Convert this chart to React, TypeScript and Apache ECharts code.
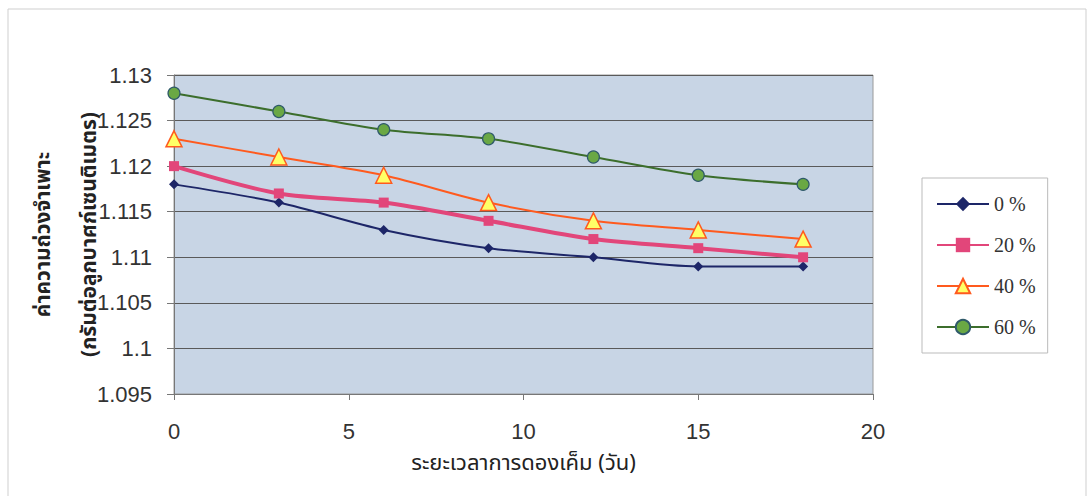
import React, { useEffect, useRef } from "react";
import * as echarts from "echarts";

const days = [0, 3, 6, 9, 12, 15, 18];
const s0 = [1.118, 1.116, 1.113, 1.111, 1.11, 1.109, 1.109];
const s20 = [1.12, 1.117, 1.116, 1.114, 1.112, 1.111, 1.11];
const s40 = [1.123, 1.121, 1.119, 1.116, 1.114, 1.113, 1.112];
const s60 = [1.128, 1.126, 1.124, 1.123, 1.121, 1.119, 1.118];
const seriesNames = ["0 %", "20 %", "40 %", "60 %"];
const xTitle = "ระยะเวลาการดองเค็ม (วัน)";
const yTitle = "ค่าความถ่วงจำเพาะ\n(กรัมต่อลูกบาศก์เซนติเมตร)";

const pair = (ys: number[]) => days.map((d, i) => [d, ys[i]]);

export default function App() {
  const ref = useRef<HTMLDivElement>(null);
  useEffect(() => {
    if (!ref.current) return;
    const chart = echarts.init(ref.current, null, { renderer: "svg" });
    const thai = "'Noto Sans Thai', 'Noto Sans', 'DejaVu Sans', sans-serif";
    chart.setOption({
      animation: false,
      backgroundColor: "#ffffff",
      graphic: [
        {
          type: "rect",
          shape: { x: 8, y: 9, width: 1078, height: 492 },
          style: { fill: "none", stroke: "#cfcfcf", lineWidth: 1 },
          silent: true,
        },
      ],
      grid: {
        left: 174,
        right: 216,
        top: 75,
        bottom: 102,
        outerBoundsMode: "none",
        containLabel: false,
        show: true,
        backgroundColor: "#c8d5e5",
        borderColor: "#9a9a9a",
        borderWidth: 1,
      },
      legend: {
        orient: "vertical",
        left: 922,
        top: 178,
        width: 126,
        backgroundColor: "#ffffff",
        borderColor: "#bbbbbb",
        borderWidth: 1,
        padding: [16, 12, 16, 14],
        itemGap: 21,
        itemWidth: 52,
        itemHeight: 18,
        textStyle: {
          fontFamily: "'Liberation Serif', 'Times New Roman', serif",
          fontSize: 20,
          color: "#333",
        },
        data: seriesNames,
      },
      xAxis: {
        type: "value",
        min: 0,
        max: 20,
        interval: 5,
        name: xTitle,
        nameLocation: "middle",
        nameGap: 58,
        nameMoveOverlap: false,
        nameTextStyle: { fontFamily: thai, fontSize: 22, color: "#222" },
        axisLine: { show: true, lineStyle: { color: "#777" } },
        axisTick: { show: true, length: 6, lineStyle: { color: "#777" } },
        axisLabel: {
          fontFamily: "'Liberation Sans', Arial, sans-serif",
          fontSize: 22,
          color: "#333",
          margin: 26,
        },
        splitLine: { show: false },
      },
      yAxis: {
        type: "value",
        min: 1.095,
        max: 1.13,
        interval: 0.005,
        name: yTitle,
        nameLocation: "middle",
        nameGap: 62,
        nameMoveOverlap: false,
        nameTextStyle: {
          fontFamily: thai,
          fontSize: 21,
          color: "#222",
          fontWeight: "bold",
          lineHeight: 46,
        },
        axisLine: { show: true, lineStyle: { color: "#777" } },
        axisTick: { show: true, length: 7, lineStyle: { color: "#777" } },
        axisLabel: {
          fontFamily: "'Liberation Sans', Arial, sans-serif",
          fontSize: 22,
          color: "#333",
          margin: 22,
          formatter: (v: number) => String(parseFloat(v.toFixed(3))),
        },
        splitLine: { show: true, lineStyle: { color: "#5a5a5a", width: 1 } },
      },
      series: [
        {
          name: seriesNames[0],
          type: "line",
          smooth: 0.3,
          data: pair(s0),
          symbol: "diamond",
          symbolSize: 10,
          lineStyle: { color: "#1d2668", width: 2 },
          itemStyle: { color: "#1d2668" },
        },
        {
          name: seriesNames[1],
          type: "line",
          smooth: 0.3,
          data: pair(s20),
          symbol: "rect",
          symbolSize: 10,
          lineStyle: { color: "#e2467a", width: 4 },
          itemStyle: { color: "#e2467a" },
        },
        {
          name: seriesNames[2],
          type: "line",
          smooth: 0.3,
          data: pair(s40),
          symbol: "triangle",
          symbolSize: 16,
          lineStyle: { color: "#ff5a1e", width: 2 },
          itemStyle: { color: "#ffff66", borderColor: "#ff5a1e", borderWidth: 1.5 },
        },
        {
          name: seriesNames[3],
          type: "line",
          smooth: 0.3,
          data: pair(s60),
          symbol: "circle",
          symbolSize: 12,
          lineStyle: { color: "#3c6e2c", width: 2 },
          itemStyle: { color: "#6aa844", borderColor: "#2f5a6a", borderWidth: 1.2 },
        },
      ],
    });
    return () => chart.dispose();
  }, []);
  return (
    <div
      ref={ref}
      style={{ position: "absolute", left: 0, top: 0, width: 1089, height: 496 }}
    />
  );
}
